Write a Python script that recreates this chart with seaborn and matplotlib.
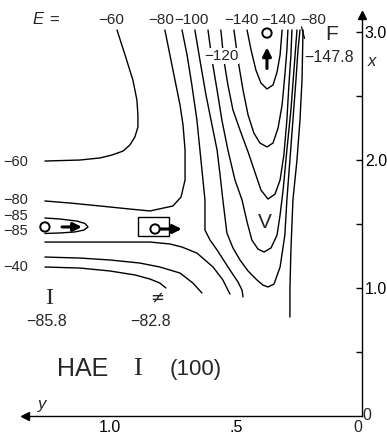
import numpy as np
import pandas as pd
import matplotlib
matplotlib.use("Agg")
import matplotlib.pyplot as plt
import seaborn as sns
from matplotlib.patches import Rectangle
from matplotlib import font_manager

# ---------------- data (y = horizontal coordinate, x = vertical coordinate) -------------
# E = -60, upper/left branch
m60a_y = [0.972, 0.940, 0.909, 0.893, 0.889, 0.889, 0.901, 0.921, 0.948, 0.992, 1.040, 1.119, 1.258]
m60a_x = [3.016, 2.820, 2.625, 2.469, 2.352, 2.258, 2.180, 2.117, 2.070, 2.039, 2.016, 2.000, 1.992]
# E = -80, upper/left branch
m80a_y = [0.782, 0.762, 0.742, 0.722, 0.710, 0.702, 0.702, 0.718, 0.750, 0.841, 0.921, 1.040, 1.159, 1.258]
m80a_x = [3.016, 2.820, 2.625, 2.430, 2.273, 2.078, 1.844, 1.711, 1.641, 1.602, 1.617, 1.641, 1.664, 1.680]
# E = -85, well around I
m85_y = [1.258, 1.198, 1.131, 1.099, 1.087, 1.103, 1.139, 1.198, 1.258]
m85_x = [1.547, 1.539, 1.523, 1.504, 1.477, 1.453, 1.438, 1.430, 1.426]
# E = -80, lower branch
m80b_y = [1.258, 1.040, 0.841, 0.762, 0.714, 0.655, 0.591, 0.552, 0.524]
m80b_x = [1.359, 1.359, 1.359, 1.344, 1.320, 1.273, 1.164, 1.063, 0.953]
# E = -60, lower branch
m60b_y = [1.258, 1.119, 1.000, 0.881, 0.802, 0.722, 0.671, 0.635]
m60b_x = [1.242, 1.234, 1.219, 1.195, 1.164, 1.117, 1.039, 0.961]
# E = -40
m40_y = [1.258, 1.119, 1.000, 0.901, 0.841, 0.802, 0.778]
m40_x = [1.164, 1.156, 1.133, 1.102, 1.070, 1.039, 1.000]
# E = -90 (product valley, left side)
m90_y = [0.714, 0.694, 0.675, 0.655, 0.643, 0.631, 0.623, 0.623, 0.603, 0.575, 0.524, 0.492, 0.476, 0.472]
m90_x = [3.016, 2.820, 2.586, 2.313, 2.078, 1.844, 1.688, 1.453, 1.375, 1.297, 1.141, 1.047, 0.984, 0.930]
# E = -100
m100_y = [0.663, 0.643, 0.619, 0.595, 0.575, 0.563, 0.552, 0.536, 0.512, 0.484, 0.452, 0.417, 0.393,
          0.373, 0.349, 0.325, 0.306, 0.298, 0.286, 0.274, 0.262, 0.254, 0.246]
m100_x = [3.016, 2.781, 2.508, 2.273, 2.078, 1.883, 1.688, 1.430, 1.313, 1.219, 1.133, 1.063, 1.023,
          1.008, 1.031, 1.164, 1.414, 1.688, 2.000, 2.313, 2.625, 2.859, 3.016]
# E = -110
m110_y = [0.611, 0.595, 0.575, 0.556, 0.532, 0.504, 0.476, 0.456, 0.437, 0.413, 0.389, 0.361, 0.337,
          0.325, 0.313, 0.298, 0.282, 0.270, 0.258]
m110_x = [3.016, 2.781, 2.547, 2.313, 2.078, 1.844, 1.688, 1.516, 1.375, 1.305, 1.281, 1.313, 1.414,
          1.570, 1.766, 2.078, 2.391, 2.703, 3.016]
# E = -120
m120_y = [0.560, 0.548, 0.532, 0.512, 0.484, 0.452, 0.425, 0.401, 0.373, 0.345, 0.325, 0.310, 0.298,
          0.290, 0.282, 0.278]
m120_x = [3.016, 2.781, 2.586, 2.391, 2.234, 2.063, 1.906, 1.766, 1.695, 1.734, 1.844, 2.039, 2.313,
          2.586, 2.820, 3.016]
# E = -130
m130_y = [0.508, 0.492, 0.472, 0.452, 0.429, 0.405, 0.377, 0.353, 0.333, 0.317, 0.306, 0.298, 0.294]
m130_x = [3.016, 2.781, 2.547, 2.352, 2.211, 2.133, 2.102, 2.133, 2.250, 2.430, 2.664, 2.859, 3.016]
# E = -140
m140_y = [0.456, 0.440, 0.421, 0.401, 0.377, 0.353, 0.337, 0.325, 0.317]
m140_x = [3.016, 2.859, 2.703, 2.602, 2.555, 2.586, 2.688, 2.820, 3.016]
# E = -80, right wall
m80c_y = [0.234, 0.238, 0.246, 0.258, 0.274, 0.282, 0.286, 0.286]
m80c_x = [3.016, 2.625, 2.313, 2.000, 1.688, 1.297, 0.984, 0.773]

# stationary points: I (reactant), saddle, F (product)
pts_y = [1.258, 0.821, 0.377]
pts_x = [1.477, 1.461, 2.992]
pts_E = [-85.8, -82.8, -147.8]

# axis ticks
bottom_ticks = [1.25, 1.0, 0.75, 0.5, 0.25]
bottom_labels = ["", "1.0", "", ".5", ""]
right_ticks = [0.5, 1.0, 1.5, 2.0, 2.5, 3.0]
right_labels = ["", "1.0", "", "2.0", "", "3.0"]

segments = {
    "m60a": (m60a_y, m60a_x), "m80a": (m80a_y, m80a_x), "m85": (m85_y, m85_x),
    "m80b": (m80b_y, m80b_x), "m60b": (m60b_y, m60b_x), "m40": (m40_y, m40_x),
    "m90": (m90_y, m90_x), "m100": (m100_y, m100_x), "m110": (m110_y, m110_x),
    "m120": (m120_y, m120_x), "m130": (m130_y, m130_x), "m140": (m140_y, m140_x),
    "m80c": (m80c_y, m80c_x),
}
rows = []
for name, (ys, xs) in segments.items():
    for i, (a, b) in enumerate(zip(ys, xs)):
        rows.append({"y": a, "x": b, "seg": name, "order": i})
df = pd.DataFrame(rows)

# ---------------- style ---------------------------------------------------------------
sns.set_style("white")
avail = {f.name for f in font_manager.fontManager.ttflist}
if "Liberation Sans Narrow" in avail:
    narrow = "Liberation Sans Narrow"
elif "Liberation Sans" in avail:
    narrow = "Liberation Sans"
else:
    narrow = "DejaVu Sans"
serif = "Liberation Serif" if "Liberation Serif" in avail else "DejaVu Serif"
plain = "Liberation Sans" if "Liberation Sans" in avail else "DejaVu Sans"
plt.rcParams["font.family"] = [narrow, "DejaVu Sans"]

W, H = 387, 437
fig = plt.figure(figsize=(W / 100, H / 100), dpi=100)
ax = fig.add_axes([25 / W, 21 / H, 337 / W, 401 / H])

sns.lineplot(data=df, x="y", y="x", units="seg", estimator=None, sort=False,
             color="black", linewidth=1.0, ax=ax, legend=False)

sns.scatterplot(x=pts_y, y=pts_x, marker="o", s=45, facecolor="none",
                edgecolor="black", linewidth=1.4, ax=ax, zorder=5)

ax.set_xlim(1.337, 0)
ax.set_ylim(0, 3.133)
ax.set_xlabel("")
ax.set_ylabel("")

for s in ["top", "left"]:
    ax.spines[s].set_visible(False)
for s in ["right", "bottom"]:
    ax.spines[s].set_linewidth(1.0)
    ax.spines[s].set_color("black")

ax.yaxis.tick_right()
ax.set_xticks(bottom_ticks)
ax.set_xticklabels(bottom_labels)
ax.set_yticks(right_ticks)
ax.set_yticklabels(right_labels)
ax.tick_params(axis="both", direction="in", length=4, width=1, colors="black",
               labelsize=11.5)
ax.tick_params(axis="x", pad=3)
ax.tick_params(axis="y", pad=2)

# axis arrow heads
ax.plot([0], [0], marker="<", color="black", ms=6, transform=ax.transAxes, clip_on=False)
ax.plot([1], [1], marker="^", color="black", ms=6, transform=ax.transAxes, clip_on=False)

# saddle box
bx0, bx1 = 0.766, 0.889
by0, by1 = 1.406, 1.555
ax.add_patch(Rectangle((bx1, by0), bx0 - bx1, by1 - by0, fill=False, lw=1.0, ec="black"))

# motion arrows
arrow_kw = dict(arrowstyle="-|>,head_length=0.5,head_width=0.25", lw=2.2, color="black",
                shrinkA=0, shrinkB=0)
ax.annotate("", xy=(1.111, pts_x[0]), xytext=(1.190, pts_x[0]), arrowprops=arrow_kw)
ax.annotate("", xy=(0.715, pts_x[1]), xytext=(0.800, pts_x[1]), arrowprops=arrow_kw)
ax.annotate("", xy=(0.377, 2.880), xytext=(0.377, 2.715), arrowprops=arrow_kw)


def ftxt(px, py, s, **kw):
    kw.setdefault("ha", "center")
    kw.setdefault("va", "center")
    kw.setdefault("fontsize", 11.5)
    return fig.text(px / W, 1 - py / H, s, **kw)


# top labels
ftxt(38, 20, "E", fontsize=12, style="italic", family=plain)
ftxt(54, 20, "=", fontsize=12, family=plain)
for px, s in [(111, "\u221260"), (161, "\u221280"), (191, "\u2212100"), (241, "\u2212140"),
              (278, "\u2212140"), (313, "\u221280")]:
    ftxt(px, 20, s, fontsize=11)
ax.plot([0.228, 0.240], [2.95, 3.04], color="black", lw=0.9, clip_on=False)
ftxt(221, 56, "\u2212120", fontsize=11, bbox=dict(fc="white", ec="none", pad=0.5))
ftxt(332, 34, "F", fontsize=15, family=plain)
ftxt(329, 57, "\u2212147.8")

# left labels
for py, s in [(162, "\u221260"), (200, "\u221280"), (216, "\u221285"), (231, "\u221285"),
              (267, "\u221240")]:
    ftxt(16, py, s, fontsize=10.5)

# state labels
ftxt(49, 298, "I", fontsize=17, family=serif)
ftxt(47, 322, "\u221285.8")
ftxt(157, 298, "\u2260", fontsize=12, family="DejaVu Sans")
ftxt(151, 322, "\u221282.8")
ftxt(265, 222, "V", fontsize=15, family=plain)

# title
ftxt(57, 369, "HAE", fontsize=18, ha="left", family=plain)
ftxt(137, 369, "I", fontsize=19, family=serif)
ftxt(170, 369, "(100)", fontsize=16, ha="left", family=plain)

# axis names and zeros
ftxt(372, 62, "x", fontsize=12, style="italic", family=plain)
ftxt(42, 404, "y", fontsize=12, style="italic", family=plain)
ftxt(358, 428, "0", fontsize=11.5)
ftxt(367, 416, "0", fontsize=11.5)

fig.savefig("out.png", dpi=100, facecolor="white")
